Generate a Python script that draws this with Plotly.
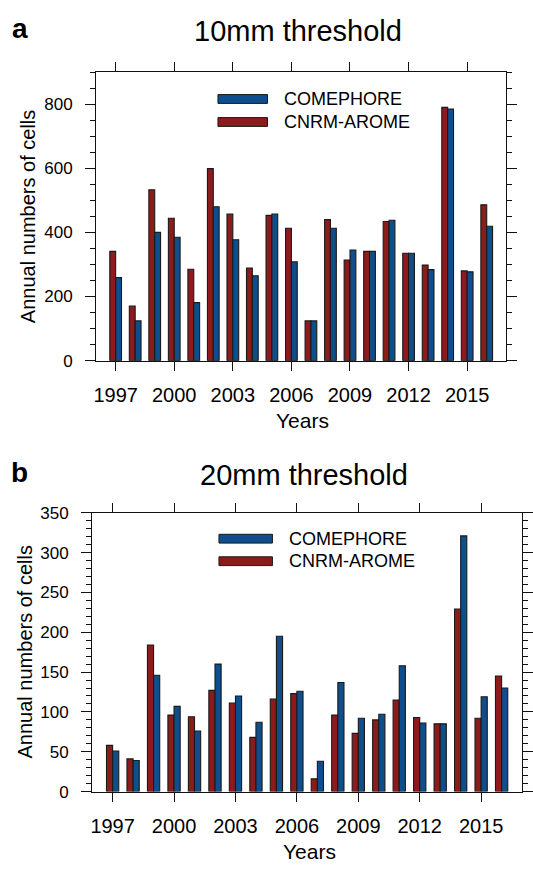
import plotly.graph_objects as go

# ---------------- data ----------------
years = list(range(1997, 2017))
arome_10 = [341, 170, 533, 444, 285, 599, 457, 289, 453, 413, 124, 440, 314, 341, 434, 335, 298, 790, 280, 486]
comephore_10 = [259, 124, 400, 385, 181, 480, 377, 265, 457, 308, 124, 413, 345, 341, 438, 335, 284, 785, 277, 419]
arome_20 = [58, 41, 184, 96, 94, 127, 111, 68, 116, 123, 16, 96, 73, 90, 115, 93, 85, 229, 92, 145]
comephore_20 = [51, 39, 146, 107, 76, 160, 120, 87, 195, 126, 38, 137, 92, 97, 158, 86, 85, 321, 119, 130]
xtick_vals = [1997, 2000, 2003, 2006, 2009, 2012, 2015]
ytick_vals_10 = [0, 200, 400, 600, 800]
ytick_vals_20 = [0, 50, 100, 150, 200, 250, 300, 350]
series_names = ["COMEPHORE", "CNRM-AROME"]
panel_titles = ["10mm threshold", "20mm threshold"]

RED = "#8C1B1C"
BLUE = "#0F4E8C"
EDGE = "#1a1a1a"
FONT = "Liberation Sans, Arial, Helvetica, sans-serif"

W, H = 533, 872


def px(x):
    return x / W


def py(y):
    return 1 - y / H


fig = go.Figure()

panels = [
    dict(ar=arome_10, co=comephore_10, xa="x", ya="y",
         xdom=[px(94), px(508)], ydom=[py(359.5), py(64.5)],
         yr=[0, 900], yt=ytick_vals_10, minor=50),
    dict(ar=arome_20, co=comephore_20, xa="x2", ya="y2",
         xdom=[px(90), px(524)], ydom=[py(800), py(515)],
         yr=[0, 350], yt=ytick_vals_20, minor=10),
]

for p in panels:
    fig.add_trace(go.Bar(x=years, y=p["ar"], name=series_names[1], width=0.3, offset=-0.3,
                         marker=dict(color=RED, line=dict(color=EDGE, width=1.1)),
                         xaxis=p["xa"], yaxis=p["ya"], showlegend=False))
    fig.add_trace(go.Bar(x=years, y=p["co"], name=series_names[0], width=0.3, offset=0.0,
                         marker=dict(color=BLUE, line=dict(color=EDGE, width=1.1)),
                         xaxis=p["xa"], yaxis=p["ya"], showlegend=False))

axis_common = dict(showline=True, linecolor="#111", linewidth=1.2, mirror="ticks",
                   ticks="outside", tickcolor="#111", tickwidth=1.2, showgrid=False,
                   zeroline=False)

layout = dict(width=W, height=H, margin=dict(l=0, r=0, t=0, b=0),
              plot_bgcolor="white", paper_bgcolor="white", barmode="overlay",
              font=dict(family=FONT, color="black"))

for i, p in enumerate(panels):
    xk = "xaxis" if i == 0 else "xaxis2"
    yk = "yaxis" if i == 0 else "yaxis2"
    layout[xk] = dict(axis_common, domain=p["xdom"], range=[1996, 2017], tickvals=xtick_vals,
                      ticklen=9, tickfont=dict(size=20), ticklabelstandoff=7,
                      anchor=p["ya"])
    layout[yk] = dict(axis_common, domain=p["ydom"], range=p["yr"], tickvals=p["yt"],
                      ticklen=10, tickfont=dict(size=17), ticklabelstandoff=9,
                      anchor=p["xa"],
                      minor=dict(ticks="outside", ticklen=5, dtick=p["minor"], tickcolor="#111",
                                 tickwidth=1.2, showgrid=False))

fig.update_layout(**layout)

annotations = []
shapes = []

# titles, panel letters, axis titles
for (title, letter, ty, xt, yearsx, yearsy, ylab_x, ylab_y) in [
    (panel_titles[0], "a", 22, 298, 302, 421, 26, 212),
    (panel_titles[1], "b", 476, 304, 309, 861, 22, 657),
]:
    annotations.append(dict(text=title, x=px(xt), y=py(ty), xref="paper", yref="paper",
                            xanchor="center", yanchor="middle", showarrow=False,
                            font=dict(size=29, family=FONT)))
    annotations.append(dict(text="<b>%s</b>" % letter, x=px(17), y=py(ty - 2), xref="paper",
                            yref="paper", xanchor="center", yanchor="middle", showarrow=False,
                            font=dict(size=28, family=FONT)))
    annotations.append(dict(text="Years", x=px(yearsx), y=py(yearsy), xref="paper", yref="paper",
                            xanchor="center", yanchor="middle", showarrow=False,
                            font=dict(size=21, family=FONT)))
    annotations.append(dict(text="Annual numbers of cells", x=px(ylab_x), y=py(ylab_y),
                            xref="paper", yref="paper", xanchor="center", yanchor="middle",
                            textangle=-90, showarrow=False, font=dict(size=20, family=FONT)))

# legends (patches + labels)
for (x0, x1, rows, tx) in [
    (217, 267, [(87.5, 96.5), (111, 120)], 282),
    (218, 272, [(537, 546), (560, 569)], 287),
]:
    for (y0, y1), col, name in zip(rows, [BLUE, RED], series_names):
        shapes.append(dict(type="rect", xref="paper", yref="paper",
                           x0=px(x0), x1=px(x1), y0=py(y1), y1=py(y0),
                           fillcolor=col, line=dict(color=EDGE, width=1)))
        annotations.append(dict(text=name, x=px(tx), y=py((y0 + y1) / 2), xref="paper",
                                yref="paper", xanchor="left", yanchor="middle",
                                showarrow=False, font=dict(size=18, family=FONT)))

fig.update_layout(annotations=annotations, shapes=shapes)
fig.write_html("out.html")
